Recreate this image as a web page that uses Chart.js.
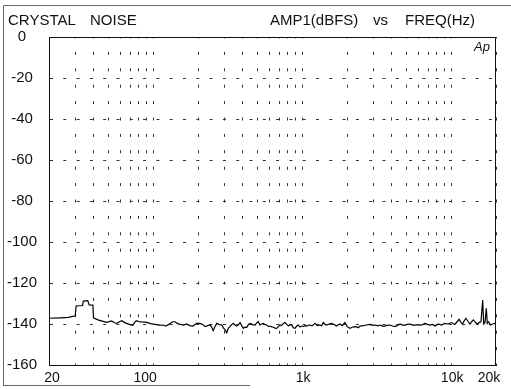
<!DOCTYPE html>
<html>
<head>
<meta charset="utf-8">
<title>Crystal noise</title>
<script src="https://cdn.jsdelivr.net/npm/chart.js@4.4.1/dist/chart.umd.min.js"></script>
<style>
  html, body { margin: 0; padding: 0; background: #fff; }
  #wrap { width: 511px; height: 389px; }
</style>
</head>
<body>
<div id="wrap"><canvas id="chartCanvas" width="511" height="389"></canvas></div>
<script>
// noise floor trace (Hz / dBFS)
const freqs = [
  20, 24, 27, 30, 30.4, 33.6, 34, 36.4, 37.2, 39.4, 39.8, 42.6, 45.5, 48.8, 52.6, 55, 57, 59, 61.5, 64,
  66.4, 70, 73, 75.5, 77.2, 80, 84, 90.4, 96, 103, 110, 116, 122, 130, 135, 140, 146, 152, 160, 168,
  176, 185, 196, 206, 215, 223, 232, 241, 247, 253, 260, 267, 278, 289, 297, 304, 312, 320, 328, 336,
  345, 355, 364, 373, 383, 393, 403, 414, 425, 436, 447, 465, 483, 495, 508, 521, 535, 549, 563, 578,
  593, 609, 625, 641, 658, 675, 692, 710, 728, 748, 768, 788, 808, 830, 851, 873, 896, 920, 943, 968,
  993, 1018, 1045, 1072, 1100, 1129, 1165, 1221, 1263, 1318, 1350, 1387, 1425, 1461, 1521, 1575, 1640, 1698, 1750, 1795,
  1861, 1935, 2005, 2095, 2167, 2243, 2322, 2380, 2445, 2571, 2709, 2853, 2974, 3086, 3220, 3330, 3460, 3583, 3714, 3886,
  4046, 4196, 4374, 4535, 4718, 4904, 5079, 5293, 5519, 5716, 5962, 6177, 6441, 6680, 6950, 7209, 7500, 7800, 8200, 8600,
  9050, 9530, 10040, 10580, 10960, 11320, 11620, 11930, 12240, 12560, 13030, 13380, 13730, 14090, 14610, 15080, 15450, 15860, 16280, 16540,
  16880, 17220, 17480, 17830, 18380, 18940, 19670, 20000
];
const amps = [
  -137.2, -137.0, -136.8, -136.0, -131.2, -131.0, -128.8, -128.6, -130.7, -130.8, -137.0, -138.0, -138.6, -139.2, -138.5, -139.4, -139.7, -139.0, -138.4, -139.2,
  -139.7, -140.3, -140.6, -139.0, -138.4, -138.8, -139.0, -139.2, -139.8, -140.2, -140.6, -140.5, -141.0, -139.7, -138.9, -138.9, -139.8, -140.2, -140.6, -140.0,
  -140.8, -141.0, -139.7, -139.7, -140.2, -141.3, -140.8, -140.5, -141.5, -143.3, -141.2, -139.7, -140.3, -140.5, -142.0, -142.9, -144.3, -142.0, -141.3, -140.3,
  -139.7, -140.6, -141.0, -140.4, -139.3, -140.8, -142.1, -141.5, -141.6, -140.2, -139.7, -140.3, -140.5, -139.5, -138.9, -140.5, -140.0, -139.7, -140.3, -140.5,
  -141.2, -141.0, -141.4, -141.6, -142.0, -142.1, -141.3, -140.5, -140.8, -139.7, -139.3, -140.2, -141.0, -140.3, -140.5, -141.8, -142.1, -141.0, -140.5, -141.5,
  -141.0, -141.3, -140.8, -141.0, -140.6, -140.5, -140.9, -139.7, -140.8, -140.5, -140.9, -139.3, -140.2, -140.5, -140.0, -139.7, -140.3, -141.0, -140.4, -140.0,
  -140.8, -139.3, -141.3, -142.1, -141.6, -141.3, -141.4, -141.8, -141.0, -140.8, -140.5, -140.2, -140.7, -140.5, -140.9, -140.5, -141.0, -141.0, -140.7, -140.5,
  -141.0, -141.3, -140.7, -140.0, -140.5, -140.5, -140.2, -140.0, -140.5, -140.5, -140.3, -140.5, -140.3, -139.7, -140.2, -140.5, -140.2, -141.0, -140.0, -140.5,
  -139.7, -140.0, -139.3, -140.2, -138.9, -137.7, -139.2, -140.0, -138.4, -137.2, -138.9, -140.0, -138.9, -138.0, -139.3, -140.0, -139.2, -138.9, -128.3, -140.0,
  -139.3, -132.3, -139.7, -138.9, -140.5, -140.0, -139.7, -139.8
];

// axes
const yTicks = [0, -20, -40, -60, -80, -100, -120, -140, -160];
const xGrid = [20, 30, 40, 50, 60, 70, 80, 90, 100, 200, 300, 400, 500, 600, 700, 800, 900,
  1000, 2000, 3000, 4000, 5000, 6000, 7000, 8000, 9000, 10000, 20000];
const xLabelValues = [20, 100, 1000, 10000, 20000];
const xLabelText = ['20', '100', '1k', '10k', '20k'];
const xLabelNudge = [3, -8, 1, 1, -7]; // the plotter shifts some labels off their grid line

const FONT = "'Liberation Sans', Arial, Helvetica, sans-serif";

const framePlugin = {
  id: 'frame',
  beforeDraw(chart) {
    const c = chart.ctx;
    c.save();
    c.fillStyle = '#fff';
    c.fillRect(0, 0, chart.width, chart.height);
    c.restore();
  },
  afterDraw(chart) {
    const c = chart.ctx;
    const a = chart.chartArea;
    const xs = chart.scales.x;
    c.save();
    // plot box
    c.strokeStyle = '#111';
    c.lineWidth = 1;
    c.strokeRect(a.left + 0.5, a.top + 0.5, a.right - a.left - 1, a.bottom - a.top);
    // page frame
    c.strokeStyle = '#666';
    c.beginPath();
    c.moveTo(3.5, 386); c.lineTo(3.5, 5.5); c.lineTo(511, 5.5);
    c.moveTo(3, 385.5); c.lineTo(250, 385.5);
    c.stroke();
    // frequency labels
    c.fillStyle = '#111';
    c.font = '14px ' + FONT;
    c.textAlign = 'center';
    c.textBaseline = 'middle';
    xLabelValues.forEach((v, i) => {
      c.fillText(xLabelText[i], xs.getPixelForValue(v) + xLabelNudge[i], a.bottom + 13);
    });
    // headings
    c.textAlign = 'left';
    c.font = '15px ' + FONT;
    c.textBaseline = 'alphabetic';
    c.fillText('CRYSTAL', 8, 25);
    c.fillText('NOISE', 90, 25);
    c.fillText('AMP1(dBFS)', 270, 25);
    c.fillText('vs', 373, 25);
    c.fillText('FREQ(Hz)', 405, 25);
    c.font = 'italic 13px ' + FONT;
    c.fillText('Ap', 474, 51);
    c.restore();
  }
};

const canvas = document.getElementById('chartCanvas');
new Chart(canvas, {
  type: 'line',
  data: {
    datasets: [{
      data: freqs.map((f, i) => ({ x: f, y: amps[i] })),
      borderColor: '#000',
      borderWidth: 1.2,
      pointRadius: 0,
      tension: 0,
      fill: false
    }]
  },
  options: {
    responsive: false,
    animation: false,
    devicePixelRatio: 1,
    layout: { padding: { left: 0, right: 15, top: 37, bottom: 0 } },
    plugins: { legend: { display: false }, tooltip: { enabled: false } },
    scales: {
      x: {
        type: 'logarithmic',
        min: 20,
        max: 20000,
        afterBuildTicks: (s) => { s.ticks = xGrid.map(v => ({ value: v })); },
        afterFit: (s) => { s.height = 24; },
        ticks: {
          autoSkip: false,
          maxRotation: 0,
          font: { family: FONT, size: 14 },
          callback: () => '' // labels drawn by framePlugin
        },
        grid: { color: '#333', lineWidth: 1, drawTicks: false },
        border: { display: true, color: '#111', width: 1, dash: [3, 13.4], dashOffset: 1.5 }
      },
      y: {
        type: 'linear',
        min: -160,
        max: 0,
        afterBuildTicks: (s) => { s.ticks = yTicks.map(v => ({ value: v })); },
        afterFit: (s) => { s.width = 49; },
        ticks: {
          crossAlign: 'center',
          padding: 12,
          color: '#111',
          font: { family: FONT, size: 15 },
          callback: (v) => String(v)
        },
        grid: { color: '#333', lineWidth: 1, drawTicks: false },
        border: { display: true, color: '#111', width: 1, dash: [3, 10.3], dashOffset: 0 }
      }
    }
  },
  plugins: [framePlugin]
});
</script>
</body>
</html>
